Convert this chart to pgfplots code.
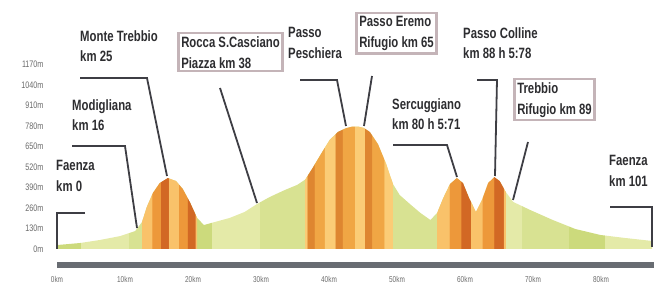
\documentclass[border=0pt]{standalone}
\usepackage{pgfplots}
\pgfplotsset{compat=1.18}
\usepackage{pgfplotstable}
\usepackage{fontspec}
\setmainfont{Liberation Sans}[FakeStretch=0.76]

\definecolor{odark}{RGB}{210,104,36}
\definecolor{omid}{RGB}{237,152,58}
\definecolor{olight}{RGB}{249,194,106}
\definecolor{pdark}{RGB}{222,134,48}
\definecolor{pmid}{RGB}{240,166,68}
\definecolor{plight}{RGB}{251,204,118}
\definecolor{gA}{RGB}{204,218,124}
\definecolor{gB}{RGB}{216,226,146}
\definecolor{gC}{RGB}{228,234,168}
\definecolor{linegray}{RGB}{62,62,68}
\definecolor{textgray}{RGB}{45,45,48}
\definecolor{boxgray}{RGB}{196,180,184}
\definecolor{bargray}{RGB}{104,108,114}
\definecolor{tickgray}{RGB}{105,105,105}

\pgfdeclarehorizontalshading{ostripesA}{100bp}{%
color(0bp)=(odark); color(9bp)=(odark); color(9bp)=(omid); color(18bp)=(omid);
color(18bp)=(odark); color(25bp)=(odark); color(25bp)=(olight); color(34bp)=(olight);
color(34bp)=(omid); color(42bp)=(omid); color(42bp)=(odark); color(49bp)=(odark);
color(49bp)=(olight); color(58bp)=(olight); color(58bp)=(omid); color(66bp)=(omid);
color(66bp)=(odark); color(73bp)=(odark); color(73bp)=(olight); color(82bp)=(olight);
color(82bp)=(omid); color(90bp)=(omid); color(90bp)=(odark); color(100bp)=(odark)}

\pgfdeclarehorizontalshading{ostripesB}{100bp}{%
color(0bp)=(pmid); color(5bp)=(pmid); color(5bp)=(plight); color(10bp)=(plight);
color(10bp)=(pdark); color(14bp)=(pdark); color(14bp)=(pmid); color(20bp)=(pmid);
color(20bp)=(plight); color(26bp)=(plight); color(26bp)=(pdark); color(30bp)=(pdark);
color(30bp)=(pmid); color(36bp)=(pmid); color(36bp)=(plight); color(42bp)=(plight);
color(42bp)=(pdark); color(46bp)=(pdark); color(46bp)=(pmid); color(53bp)=(pmid);
color(53bp)=(plight); color(59bp)=(plight); color(59bp)=(pdark); color(63bp)=(pdark);
color(63bp)=(pmid); color(70bp)=(pmid); color(70bp)=(plight); color(76bp)=(plight);
color(76bp)=(odark); color(80bp)=(odark); color(80bp)=(pmid); color(87bp)=(pmid);
color(87bp)=(plight); color(93bp)=(plight); color(93bp)=(pmid); color(100bp)=(pmid)}

\pgfdeclarehorizontalshading{gstripes}{100bp}{%
color(0bp)=(gB); color(3bp)=(gB); color(3bp)=(gA); color(6bp)=(gA);
color(6bp)=(gC); color(9bp)=(gC); color(9bp)=(gB); color(13bp)=(gB);
color(13bp)=(gA); color(16bp)=(gA); color(16bp)=(gC); color(20bp)=(gC);
color(20bp)=(gB); color(24bp)=(gB); color(24bp)=(gA); color(27bp)=(gA);
color(27bp)=(gC); color(31bp)=(gC); color(31bp)=(gB); color(35bp)=(gB);
color(35bp)=(gA); color(38bp)=(gA); color(38bp)=(gC); color(42bp)=(gC);
color(42bp)=(gB); color(46bp)=(gB); color(46bp)=(gA); color(49bp)=(gA);
color(49bp)=(gC); color(53bp)=(gC); color(53bp)=(gB); color(57bp)=(gB);
color(57bp)=(gA); color(60bp)=(gA); color(60bp)=(gC); color(64bp)=(gC);
color(64bp)=(gB); color(68bp)=(gB); color(68bp)=(gA); color(71bp)=(gA);
color(71bp)=(gC); color(75bp)=(gC); color(75bp)=(gB); color(79bp)=(gB);
color(79bp)=(gA); color(82bp)=(gA); color(82bp)=(gC); color(86bp)=(gC);
color(86bp)=(gB); color(90bp)=(gB); color(90bp)=(gA); color(93bp)=(gA);
color(93bp)=(gC); color(100bp)=(gC)}

\pgfplotstableread{
km m
0.0 25
3.4 38
6.3 57
9.3 82
11.5 114
12.5 171
13.2 266
14.1 355
15.1 418
16.3 450
17.5 431
18.5 380
19.6 292
20.6 197
21.6 152
23.2 171
25.4 197
27.6 235
29.4 285
31.3 330
33.5 374
35.3 406
36.5 440
37.6 514
39.0 615
40.1 691
41.3 742
42.5 766
43.4 776
44.3 776
45.1 768
46.0 742
47.2 665
48.4 540
49.4 412
50.4 342
51.9 285
53.4 230
54.9 184
55.9 228
56.8 323
57.8 412
58.8 450
59.7 418
60.6 323
61.6 235
62.5 311
63.4 418
64.3 456
65.1 431
66.0 361
67.1 298
69.6 247
72.9 184
76.2 127
79.9 89
83.5 70
87.5 51
}\profile

\newcommand\px[2]{({(#1-50)*1bp},{(268-#2)*1bp})}

\begin{document}
\begin{tikzpicture}
\useasboundingbox (-50bp,-24bp) rectangle (604bp,268bp);
\begin{axis}[
  scale only axis,
  width=604bp, height=263bp,
  xmin=-1.03, xmax=87.79,
  ymin=-120.5, ymax=1547,
  axis line style={draw=none},
  tick style={draw=none},
  xtick={0,10,20,30,40,50,60,70,80},
  xticklabels={0km,10km,20km,30km,40km,50km,60km,70km,80km},
  ytick={0,130,260,390,520,650,780,910,1040,1170},
  yticklabels={0m,130m,260m,390m,520m,650m,780m,910m,1040m,1170m},
  xticklabel style={font=\fontsize{8.5}{9}\selectfont, text=tickgray, yshift=-5bp},
  yticklabel style={font=\fontsize{9.5}{10}\selectfont, text=tickgray, xshift=-3bp},
  clip=false,
]
\addplot[draw=none, shading=gstripes] table {\profile} \closedcycle;
\addplot[draw=none, shading=ostripesA, restrict x to domain=12.2:21.0] table {\profile} \closedcycle;
\addplot[draw=none, shading=ostripesB, restrict x to domain=36.2:49.9] table {\profile} \closedcycle;
\addplot[draw=none, shading=ostripesA, restrict x to domain=55.5:66.5] table {\profile} \closedcycle;
\end{axis}

% bottom bar
\draw[bargray, line width=5bp] \px{57}{265} -- \px{654}{265};

\tikzset{lab/.style={font=\bfseries\fontsize{15}{21}\selectfont, text=textgray, align=left, inner sep=0pt, anchor=north west},
         lead/.style={linegray, line width=1.8bp},
         boxed/.style={draw=boxgray, line width=2.5bp, inner sep=3bp}}

% Faenza km 0
\node[lab] at \px{56}{160} {Faenza\\km 0};
\draw[lead] \px{85}{213} -- \px{57}{213} -- \px{57}{249};
% Modigliana
\node[lab] at \px{72}{99} {Modigliana\\km 16};
\draw[lead] \px{72}{146} -- \px{125}{146} -- \px{137}{228};
% Monte Trebbio
\node[lab] at \px{80}{30} {Monte Trebbio\\km 25};
\draw[lead] \px{80}{78} -- \px{147}{78} -- \px{167}{176};
% Rocca S. Casciano
\node[lab, boxed] at \px{177}{32} {Rocca S.Casciano\\Piazza km 38};
\draw[lead] \px{220}{88} -- \px{257}{203};
% Passo Peschiera
\node[lab] at \px{288}{27} {Passo\\Peschiera};
\draw[lead] \px{300}{80} -- \px{337}{80} -- \px{346}{126};
% Passo Eremo
\node[lab, boxed] at \px{355}{12} {Passo Eremo\\Rifugio km 65};
\draw[lead] \px{372}{76} -- \px{364}{126};
% Sercuggiano
\node[lab] at \px{392}{98} {Sercuggiano\\km 80 h 5:71};
\draw[lead] \px{393}{145} -- \px{447}{145} -- \px{457}{177};
% Passo Colline
\node[lab] at \px{463}{27} {Passo Colline\\km 88 h 5:78};
\draw[lead] \px{477}{80} -- \px{497}{80} -- \px{495}{176};
% Trebbio Rifugio
\node[lab, boxed] at \px{513}{78} {Trebbio\\Rifugio km 89};
\draw[lead] \px{528}{142} -- \px{513}{200};
% Faenza km 101
\node[lab] at \px{609}{155} {Faenza\\km 101};
\draw[lead] \px{610}{207} -- \px{652}{207} -- \px{652}{247};
\end{tikzpicture}
\end{document}
